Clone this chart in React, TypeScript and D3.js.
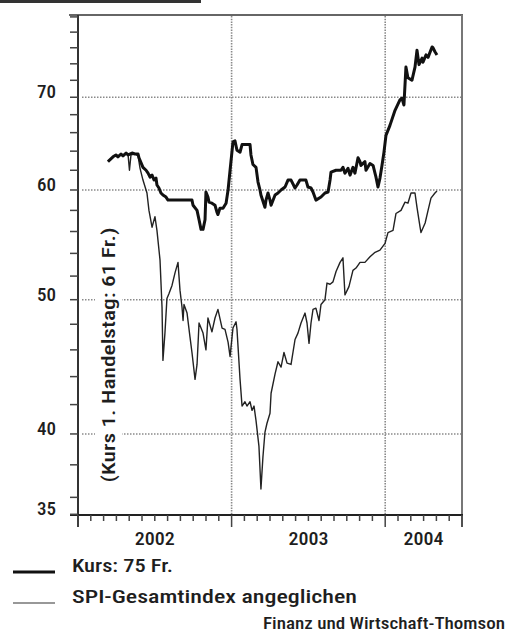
import React from 'react';
import * as d3 from 'd3';

// time as decimal years
const kursDates = [
  2002.195, 2002.228, 2002.247, 2002.260, 2002.280, 2002.293, 2002.313, 2002.326, 2002.352, 2002.371,
  2002.391, 2002.397, 2002.410, 2002.423, 2002.443, 2002.456, 2002.469, 2002.482, 2002.495, 2002.508,
  2002.514, 2002.527, 2002.540, 2002.553, 2002.573, 2002.586, 2002.677, 2002.742, 2002.749, 2002.775,
  2002.788, 2002.801, 2002.814, 2002.827, 2002.833, 2002.846, 2002.853, 2002.872, 2002.892, 2002.905,
  2002.911, 2002.924, 2002.944, 2002.964, 2002.977, 2002.990, 2003.009, 2003.022, 2003.035, 2003.055,
  2003.068, 2003.094, 2003.120, 2003.126, 2003.139, 2003.159, 2003.172, 2003.185, 2003.191, 2003.217,
  2003.224, 2003.237, 2003.250, 2003.257, 2003.283, 2003.302, 2003.322, 2003.348, 2003.367, 2003.387,
  2003.413, 2003.426, 2003.445, 2003.484, 2003.497, 2003.517, 2003.530, 2003.549, 2003.582, 2003.608,
  2003.628, 2003.641, 2003.647, 2003.680, 2003.712, 2003.725, 2003.738, 2003.758, 2003.771, 2003.790,
  2003.803, 2003.823, 2003.836, 2003.842, 2003.868, 2003.875, 2003.901, 2003.921, 2003.940, 2003.953,
  2003.966, 2003.979, 2003.992, 2004.005, 2004.031, 2004.064, 2004.096, 2004.109, 2004.122, 2004.135,
  2004.148, 2004.174, 2004.194, 2004.207, 2004.220, 2004.240, 2004.246, 2004.266, 2004.279, 2004.305,
  2004.311, 2004.324, 2004.337,
];
const kursValues = [
  62.9, 63.4, 63.6, 63.4, 63.7, 63.5, 63.8, 63.6, 63.8, 63.7,
  63.7, 63.3, 62.8, 62.3, 62.0, 61.7, 61.3, 61.5, 61.0, 61.2,
  60.5, 60.2, 59.7, 59.5, 59.3, 59.0, 59.0, 59.0, 58.5, 58.0,
  57.1, 56.2, 56.2, 57.1, 59.8, 59.3, 58.8, 58.7, 58.5, 57.8,
  57.6, 58.2, 58.2, 58.7, 60.0, 62.0, 65.0, 65.1, 64.1, 63.9,
  64.7, 64.7, 64.7, 63.6, 62.6, 62.3, 60.8, 60.0, 59.5, 58.3,
  59.0, 59.7, 59.0, 58.5, 59.5, 59.7, 60.0, 60.3, 61.0, 61.0,
  60.2, 60.5, 61.0, 61.0, 60.3, 60.2, 59.8, 59.0, 59.3, 59.7,
  59.8, 61.0, 61.8, 62.0, 62.0, 62.3, 61.7, 62.2, 61.5, 62.3,
  61.7, 63.3, 62.9, 62.5, 62.9, 62.0, 62.7, 62.5, 61.3, 60.3,
  61.2, 62.5, 63.9, 65.7, 66.8, 68.5, 69.7, 69.9, 69.1, 73.6,
  72.3, 72.0, 73.6, 75.7, 73.9, 74.7, 74.2, 75.1, 74.8, 76.1,
  76.0, 75.5, 75.1,
];

const spiDates = [
  2002.195, 2002.228, 2002.247, 2002.260, 2002.280, 2002.293, 2002.313, 2002.326, 2002.335, 2002.345,
  2002.371, 2002.391, 2002.404, 2002.423, 2002.449, 2002.462, 2002.482, 2002.501, 2002.514, 2002.534,
  2002.547, 2002.553, 2002.566, 2002.579, 2002.592, 2002.612, 2002.632, 2002.651, 2002.664, 2002.677,
  2002.684, 2002.690, 2002.710, 2002.729, 2002.742, 2002.762, 2002.775, 2002.788, 2002.814, 2002.833,
  2002.846, 2002.872, 2002.892, 2002.911, 2002.938, 2002.957, 2002.977, 2002.990, 2003.009, 2003.029,
  2003.035, 2003.055, 2003.068, 2003.087, 2003.100, 2003.120, 2003.133, 2003.146, 2003.159, 2003.178,
  2003.191, 2003.204, 2003.217, 2003.230, 2003.250, 2003.257, 2003.283, 2003.302, 2003.322, 2003.341,
  2003.361, 2003.387, 2003.413, 2003.432, 2003.452, 2003.478, 2003.491, 2003.504, 2003.517, 2003.530,
  2003.549, 2003.569, 2003.582, 2003.608, 2003.621, 2003.641, 2003.660, 2003.680, 2003.706, 2003.725,
  2003.738, 2003.764, 2003.790, 2003.810, 2003.836, 2003.868, 2003.901, 2003.934, 2003.966, 2003.999,
  2004.018, 2004.051, 2004.070, 2004.103, 2004.129, 2004.148, 2004.168, 2004.194, 2004.207, 2004.227,
  2004.233, 2004.260, 2004.279, 2004.298, 2004.324, 2004.337,
];
const spiValues = [
  62.9, 63.4, 63.6, 63.4, 63.7, 63.5, 63.8, 63.6, 62.0, 63.6,
  63.7, 63.5, 62.2, 61.0, 59.7, 58.0, 56.4, 57.4, 56.1, 53.4,
  49.4, 45.2, 47.3, 50.1, 50.5, 51.2, 52.3, 53.2, 50.8, 49.4,
  48.3, 49.6, 48.9, 47.0, 45.8, 43.8, 44.9, 48.1, 47.3, 46.0,
  48.5, 47.4, 48.5, 49.2, 47.7, 47.6, 46.6, 45.5, 47.7, 48.2,
  47.6, 43.8, 41.9, 42.2, 41.9, 42.2, 41.6, 41.9, 40.9, 39.2,
  36.5, 38.5, 40.1, 40.7, 41.4, 42.8, 44.2, 45.1, 44.7, 45.8,
  45.0, 44.9, 46.8, 47.3, 48.1, 48.9, 48.1, 46.5, 48.1, 49.2,
  49.3, 48.3, 49.6, 50.0, 51.4, 51.3, 51.5, 52.4, 53.2, 53.6,
  50.4, 51.1, 52.5, 52.7, 53.2, 53.2, 53.7, 54.1, 54.3, 54.9,
  55.9, 56.1, 57.7, 58.0, 58.8, 58.7, 59.7, 59.7, 58.3, 56.4,
  55.9, 56.8, 58.0, 59.2, 59.7, 59.9,
];

const yLabels = [35, 40, 50, 60, 70];
const yGrid = [40, 50, 60, 70];
const yearLabels = ['2002', '2003', '2004'];
const yearCenters = [2002.5, 2003.5, 2004.25];
const yearLines = [2003, 2004];
const legendLabels = ['Kurs: 75 Fr.', 'SPI-Gesamtindex angeglichen'];
const sourceLabel = 'Finanz und Wirtschaft-Thomson';
const axisTitle = '(Kurs 1. Handelstag: 61 Fr.)';

const FONT = "'Liberation Sans Narrow', 'Roboto Condensed', Roboto, 'Liberation Sans', Arial, sans-serif";

export default function App() {
  const W = 517, H = 632;
  const x = d3.scaleLinear().domain([2002, 2004.5]).range([78, 462]);
  const y = d3.scaleLog().domain([35, 80]).range([514.3, 16.9]);
  const line = d3.line<[number, number]>().x(d => x(d[0])).y(d => y(d[1]));
  const kurs: [number, number][] = kursDates.map((t, i) => [t, kursValues[i]]);
  const spi: [number, number][] = spiDates.map((t, i) => [t, spiValues[i]]);

  const minorY = [35, ...d3.range(36, 80, 2), 80];
  const months = d3.range(0, 31);
  const x0 = x(2002), x1 = x(2004.5);
  const yb = y(35) + 0.7;
  const top = 15;
  const textColor = '#1e1e1e';
  const fw = 500;

  return (
    <svg width={W} height={H} style={{ position: 'absolute', left: 0, top: 0, background: '#fff' }}>
      <rect x={0} y={0} width={201} height={3} fill="#333" />

      {/* gridlines */}
      {yGrid.map(v => (
        <line key={'g' + v} x1={x0 + 4} x2={x1} y1={y(v)} y2={y(v)} stroke="#8a8a8a" strokeWidth={1.5} strokeDasharray="1.5,1.5" />
      ))}
      {yearLines.map(t => (
        <line key={'v' + t} x1={x(t)} x2={x(t)} y1={top + 1} y2={yb} stroke="#8a8a8a" strokeWidth={1.6} strokeDasharray="1.5,1.2" />
      ))}

      {/* axis title with white background */}
      <rect x={95} y={222} width={27} height={266} fill="#fff" />
      <text transform="translate(115,355) rotate(-90)" textAnchor="middle" fontFamily={FONT} fontSize={18} fontWeight={fw}
        fill={textColor} textLength={255} lengthAdjust="spacingAndGlyphs">{axisTitle}</text>

      {/* frame */}
      <line x1={69} x2={x1 + 1} y1={top} y2={top} stroke="#666" strokeWidth={2} />
      <line x1={x1} x2={x1} y1={top} y2={yb + 12} stroke="#777" strokeWidth={2} />
      <line x1={x0} x2={x0} y1={top} y2={yb + 12} stroke="#333" strokeWidth={2} />
      <line x1={70} x2={x1 + 1} y1={yb} y2={yb} stroke="#222" strokeWidth={2} />

      {/* y ticks */}
      {minorY.map(v => (
        <line key={'yt' + v} x1={70} x2={x0} y1={y(v)} y2={y(v)} stroke="#444" strokeWidth={1.5} />
      ))}
      {yLabels.map(v => (
        <text key={'yl' + v} x={56} y={y(v) + 1} textAnchor="end" fontFamily={FONT} fontSize={19} fontWeight={fw}
          fill={textColor} textLength={19} lengthAdjust="spacingAndGlyphs">{v}</text>
      ))}

      {/* x ticks */}
      {months.map(m => {
        const t = 2002 + m / 12;
        const long = m % 12 === 0 || m === 30;
        return <line key={'xt' + m} x1={x(t)} x2={x(t)} y1={yb} y2={yb + (long ? 12 : 6)} stroke="#444" strokeWidth={1.5} />;
      })}
      {yearLabels.map((l, i) => (
        <text key={l} x={x(yearCenters[i])} y={545} textAnchor="middle" fontFamily={FONT} fontSize={19} fontWeight={fw}
          fill={textColor} textLength={40} lengthAdjust="spacingAndGlyphs">{l}</text>
      ))}

      {/* series */}
      <path d={line(spi) || ''} fill="none" stroke="#222" strokeWidth={1.4} strokeLinejoin="round" />
      <path d={line(kurs) || ''} fill="none" stroke="#111" strokeWidth={3} strokeLinejoin="round" />

      {/* legend */}
      <line x1={13} x2={55} y1={572} y2={572} stroke="#111" strokeWidth={3} />
      <line x1={13} x2={55} y1={603} y2={603} stroke="#333" strokeWidth={1.2} />
      <text x={72} y={572} fontFamily={FONT} fontSize={19} fontWeight={fw} fill={textColor} textLength={101} lengthAdjust="spacingAndGlyphs">{legendLabels[0]}</text>
      <text x={72} y={603} fontFamily={FONT} fontSize={19} fontWeight={fw} fill={textColor} textLength={285} lengthAdjust="spacingAndGlyphs">{legendLabels[1]}</text>
      <text x={263} y={629} fontFamily={FONT} fontSize={16} fontWeight={fw} fill={textColor} textLength={242} lengthAdjust="spacingAndGlyphs">{sourceLabel}</text>
    </svg>
  );
}
